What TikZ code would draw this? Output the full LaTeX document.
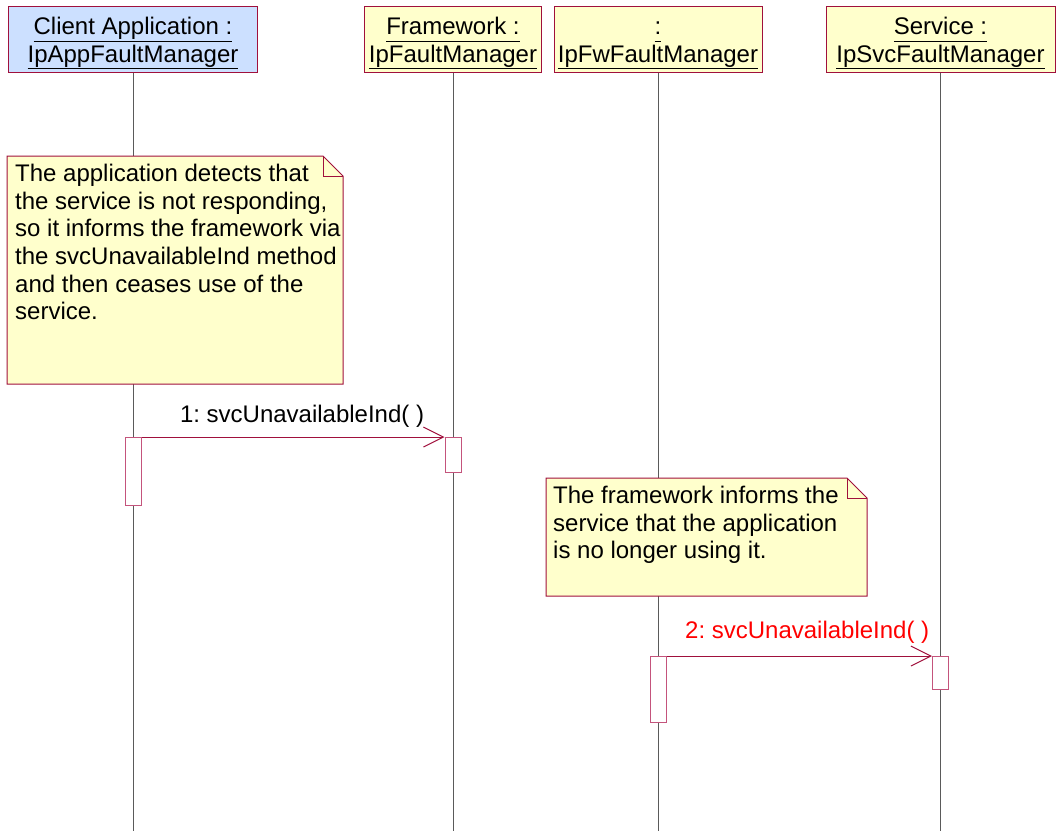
\documentclass[tikz,border=0pt]{standalone}
\usepackage{fontspec}
\setmainfont{Liberation Sans}
\usetikzlibrary{arrows.meta, positioning, calc}
\definecolor{umlborder}{RGB}{160,16,60}
\definecolor{actborder}{RGB}{196,84,124}
\definecolor{notefill}{RGB}{255,255,204}
\definecolor{appfill}{RGB}{204,224,255}
\definecolor{lifegray}{RGB}{90,90,90}
\newcommand{\objname}[1]{\underline{\vphantom{Ip}#1}}
\frenchspacing

\begin{document}
\begin{tikzpicture}[x=1pt, y=-1pt,
  object/.style={rectangle, draw=umlborder, fill=notefill, line width=1pt, minimum height=66pt, inner sep=0pt, align=center, font=\fontsize{24}{27.6}\selectfont},
  lifeline/.style={draw=lifegray, line width=1pt},
  act/.style={rectangle, draw=actborder, fill=white, line width=1pt, minimum width=16pt, inner sep=0pt, anchor=north},
  notebox/.style={draw=umlborder, fill=notefill, line width=1pt},
  notetext/.style={anchor=north west, align=left, inner xsep=8pt, inner ysep=8pt, font=\fontsize{24}{27.6}\selectfont},
  msg/.style={draw=umlborder, line width=1pt, -{Straight Barb[length=20pt, width=20pt]}},
  msglabel/.style={anchor=base, font=\fontsize{24}{27.6}\selectfont},
]
  \useasboundingbox (0,0) rectangle (1056,831);

  % objects
  \node[object, fill=appfill, minimum width=249pt] (app) at (133,39) {\rule{0pt}{26pt}\objname{Client Application :}\\\objname{IpAppFaultManager}};
  \node[object, minimum width=177pt] (fw)  at (453,39) {\rule{0pt}{26pt}\objname{Framework :}\\\objname{IpFaultManager}};
  \node[object, minimum width=208pt] (fwm) at (658,39) {\rule{0pt}{26pt}\objname{:}\\\objname{IpFwFaultManager}};
  \node[object, minimum width=229pt] (svc) at (940.5,39) {\rule{0pt}{26pt}\objname{Service :}\\\objname{IpSvcFaultManager}};

  % lifelines
  \coordinate (bottom) at (0,831);
  \foreach \o in {app,fw,fwm,svc}
    \draw[lifeline] (\o.south) -- (\o.south |- bottom);

  % notes
  \coordinate (note1corner) at (7,156);
  \draw[notebox] (note1corner) -- ++(316,0) -- ++(20,20) -- ++(0,208) -- ++(-336,0) -- cycle;
  \draw[notebox, fill=none] ($(note1corner)+(316,0)$) |- ++(20,20);
  \node[notetext] (note1) at (note1corner) {The application detects that\\the service is not responding,\\so it informs the framework via\\the svcUnavailableInd method\\and then ceases use of the\\service.};

  \coordinate (note2corner) at (546,478);
  \draw[notebox] (note2corner) -- ++(301,0) -- ++(20,20) -- ++(0,98) -- ++(-321,0) -- cycle;
  \draw[notebox, fill=none] ($(note2corner)+(301,0)$) |- ++(20,20);
  \node[notetext, inner xsep=7pt] (note2) at (note2corner) {The framework informs the\\service that the application\\is no longer using it.};

  % activations
  \node[act, minimum height=68pt] (act1) at (app.south |- 0,437) {};
  \node[act, minimum height=35pt] (act2) at (fw.south |- 0,437) {};
  \node[act, minimum height=66pt] (act3) at (fwm.south |- 0,656) {};
  \node[act, minimum height=33pt] (act4) at (svc.south |- 0,656) {};

  % messages
  \draw[msg] (act1.north east) -- node[msglabel, pos=0.53, yshift=15pt] {1: svcUnavailableInd( )} (act2.north west);
  \draw[msg] (act3.north east) -- node[msglabel, pos=0.53, yshift=18pt, text=red] {2: svcUnavailableInd( )} (act4.north west);
\end{tikzpicture}
\end{document}
